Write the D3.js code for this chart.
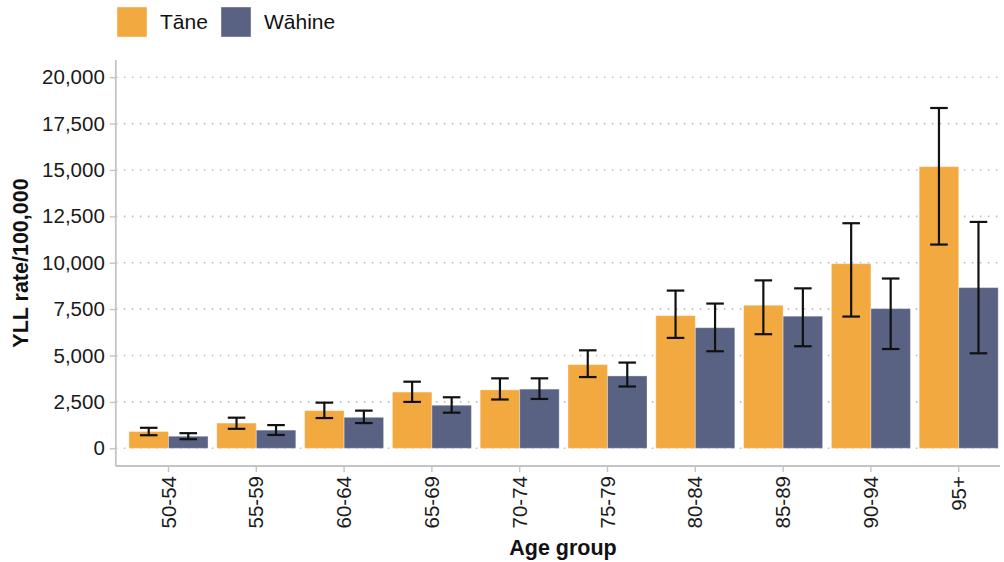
<!DOCTYPE html>
<html>
<head>
<meta charset="utf-8">
<script src="https://cdn.jsdelivr.net/npm/d3@7"></script>
<style>
  html, body { margin: 0; padding: 0; background: #fff; }
  svg { display: block; font-family: "Liberation Sans", Arial, sans-serif; }
</style>
</head>
<body>
<svg id="chart" width="1004" height="562"></svg>
<script>
// Age groups and sexes
const groups = ["50-54", "55-59", "60-64", "65-69", "70-74", "75-79", "80-84", "85-89", "90-94", "95+"];
const sexes = ["Tāne", "Wāhine"];

// YLL rate per 100,000 with 95% confidence limits
const taneRate  = [905, 1360, 2030, 3030, 3150, 4510, 7150, 7710, 9950, 15180];
const taneLow   = [705, 1050, 1630, 2500, 2630, 3840, 5950, 6150, 7100, 10980];
const taneHigh  = [1105, 1650, 2460, 3590, 3770, 5280, 8500, 9050, 12130, 18340];
const wahineRate = [650, 980, 1670, 2320, 3190, 3900, 6500, 7120, 7530, 8660];
const wahineLow  = [490, 720, 1360, 1920, 2660, 3330, 5230, 5500, 5350, 5120];
const wahineHigh = [815, 1250, 2030, 2750, 3770, 4620, 7800, 8620, 9150, 12200];

const yTicks = [0, 2500, 5000, 7500, 10000, 12500, 15000, 17500, 20000];
const colours = { "Tāne": "#F2A93F", "Wāhine": "#596283" };

const rows = [];
groups.forEach((g, i) => {
  rows.push({ group: g, sex: "Tāne", value: taneRate[i], lo: taneLow[i], hi: taneHigh[i] });
  rows.push({ group: g, sex: "Wāhine", value: wahineRate[i], lo: wahineLow[i], hi: wahineHigh[i] });
});

const svg = d3.select("#chart");
const panel = { left: 115.8, right: 1011.4, top: 60, bottom: 466, clipRight: 1000 };

const x = d3.scaleBand().domain(groups)
  .range([panel.left, panel.right])
  .paddingInner(0.1).paddingOuter(0.15);
const xSub = d3.scaleBand().domain(sexes).range([0, x.bandwidth()]);
const y = d3.scaleLinear().domain([0, 20000]).range([448.3, 77.2]);

// dotted horizontal gridlines
svg.append("g").selectAll("line").data(yTicks).join("line")
  .attr("x1", panel.left).attr("x2", panel.clipRight)
  .attr("y1", d => y(d)).attr("y2", d => y(d))
  .attr("stroke", "#bdbdbd").attr("stroke-width", 1.6)
  .attr("stroke-dasharray", "1.6,6.4");

// bars
svg.append("g").selectAll("rect").data(rows).join("rect")
  .attr("x", d => x(d.group) + xSub(d.sex))
  .attr("width", xSub.bandwidth())
  .attr("y", d => y(d.value))
  .attr("height", d => y(0) - y(d.value))
  .attr("fill", d => colours[d.sex])
  .attr("stroke", "rgba(255,255,255,0.35)")
  .attr("stroke-width", 1);

// confidence interval error bars
const capHalf = x.step() * 0.1;
const eb = svg.append("g").selectAll("g").data(rows).join("g")
  .attr("transform", d => `translate(${x(d.group) + xSub(d.sex) + xSub.bandwidth() / 2},0)`);
eb.append("line").attr("x1", 0).attr("x2", 0)
  .attr("y1", d => y(d.lo)).attr("y2", d => y(d.hi))
  .attr("stroke", "#111").attr("stroke-width", 2.2);
eb.append("line").attr("x1", -capHalf).attr("x2", capHalf)
  .attr("y1", d => y(d.hi)).attr("y2", d => y(d.hi))
  .attr("stroke", "#111").attr("stroke-width", 2.2);
eb.append("line").attr("x1", -capHalf).attr("x2", capHalf)
  .attr("y1", d => y(d.lo)).attr("y2", d => y(d.lo))
  .attr("stroke", "#111").attr("stroke-width", 2.2);

// y axis
const yAxis = svg.append("g")
  .attr("transform", `translate(${panel.left},0)`)
  .call(d3.axisLeft(y).tickValues(yTicks).tickFormat(d3.format(",")).tickSize(6).tickPadding(5));
yAxis.select(".domain").remove();
yAxis.selectAll(".tick line").attr("stroke", "#c4c4c4").attr("stroke-width", 1.4);
yAxis.selectAll(".tick text").attr("fill", "#1a1a1a").style("font-size", "20.5px");
svg.append("line")
  .attr("x1", panel.left).attr("x2", panel.left)
  .attr("y1", panel.top).attr("y2", panel.bottom)
  .attr("stroke", "#c4c4c4").attr("stroke-width", 1.8);

// x axis
const xAxis = svg.append("g")
  .attr("transform", `translate(0,${panel.bottom})`)
  .call(d3.axisBottom(x).tickSize(6).tickPadding(0));
xAxis.select(".domain").remove();
xAxis.selectAll(".tick line").attr("stroke", "#c4c4c4").attr("stroke-width", 1.4);
xAxis.selectAll(".tick text")
  .attr("fill", "#1a1a1a").style("font-size", "20.5px")
  .attr("transform", "rotate(-90)")
  .attr("text-anchor", "end")
  .attr("x", -10).attr("y", 0).attr("dy", "0.35em");
svg.append("line")
  .attr("x1", panel.left).attr("x2", panel.clipRight)
  .attr("y1", panel.bottom).attr("y2", panel.bottom)
  .attr("stroke", "#c4c4c4").attr("stroke-width", 1.8);

// axis titles
svg.append("text")
  .attr("x", 563).attr("y", 555)
  .attr("text-anchor", "middle")
  .style("font-size", "21.5px").style("font-weight", "bold").attr("fill", "#111")
  .text("Age group");
svg.append("text")
  .attr("transform", `translate(28,${(panel.top + panel.bottom) / 2}) rotate(-90)`)
  .attr("text-anchor", "middle")
  .style("font-size", "21.5px").style("font-weight", "bold").attr("fill", "#111")
  .text("YLL rate/100,000");

// legend
const legendX = [117, 221];
const legend = svg.append("g").selectAll("g").data(sexes).join("g")
  .attr("transform", (d, i) => `translate(${legendX[i]},7)`);
legend.append("rect")
  .attr("width", 30).attr("height", 30)
  .attr("fill", d => colours[d])
  .attr("stroke", "rgba(255,255,255,0.4)").attr("stroke-width", 1);
legend.append("text")
  .attr("x", 43).attr("y", 15).attr("dy", "0.35em")
  .style("font-size", "21px").attr("fill", "#111")
  .text(d => d);
</script>
</body>
</html>
